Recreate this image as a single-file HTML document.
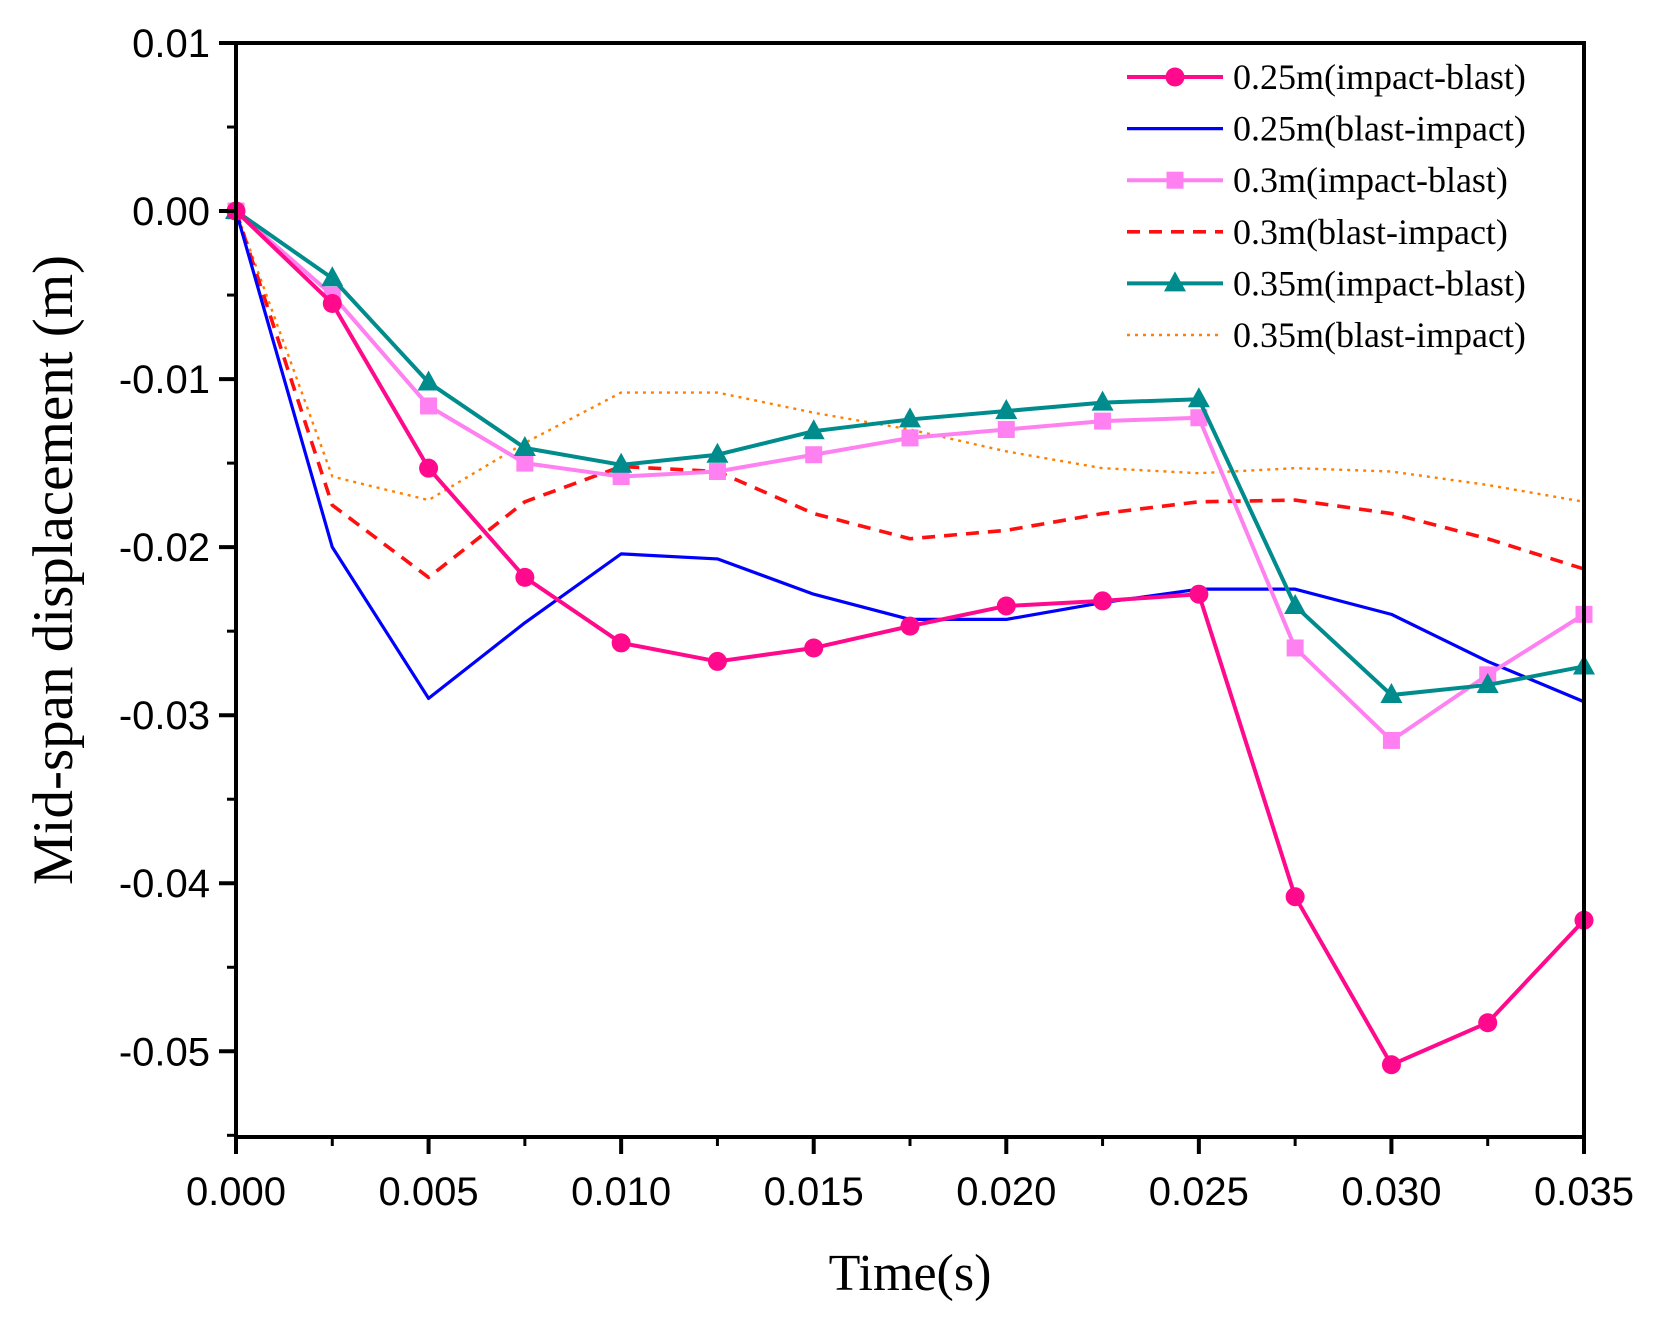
<!DOCTYPE html>
<html><head><meta charset="utf-8"><style>
html,body{margin:0;padding:0;background:#fff;}
svg{display:block;}
</style></head><body>
<svg id="chart" width="1659" height="1325" viewBox="0 0 1659 1325" xmlns="http://www.w3.org/2000/svg">
<g id="plot"></g>
</svg>
<script>
const times=[0,0.0025,0.005,0.0075,0.01,0.0125,0.015,0.0175,0.02,0.0225,0.025,0.0275,0.03,0.0325,0.035];
const s025ib=[0,-0.0055,-0.0153,-0.0218,-0.0257,-0.0268,-0.026,-0.0247,-0.0235,-0.0232,-0.0228,-0.0408,-0.0508,-0.0483,-0.0422];
const s025bi=[0,-0.020,-0.029,-0.0245,-0.0204,-0.0207,-0.0228,-0.0243,-0.0243,-0.0233,-0.0225,-0.0225,-0.024,-0.0268,-0.0292];
const s03ib=[0,-0.005,-0.0116,-0.015,-0.0158,-0.0155,-0.0145,-0.0135,-0.013,-0.0125,-0.0123,-0.026,-0.0315,-0.0276,-0.024];
const s03bi=[0,-0.0175,-0.0218,-0.0173,-0.0152,-0.0155,-0.018,-0.0195,-0.019,-0.018,-0.0173,-0.0172,-0.018,-0.0195,-0.0213];
const s035ib=[0,-0.004,-0.0102,-0.0141,-0.0151,-0.0145,-0.0131,-0.0124,-0.0119,-0.0114,-0.0112,-0.0235,-0.0288,-0.0282,-0.0271];
const s035bi=[0,-0.0158,-0.0172,-0.0138,-0.0108,-0.0108,-0.012,-0.013,-0.0143,-0.0153,-0.0156,-0.0153,-0.0155,-0.0163,-0.0173];
const xTicks=[0,0.005,0.010,0.015,0.020,0.025,0.030,0.035];
const xTickLabels=["0.000","0.005","0.010","0.015","0.020","0.025","0.030","0.035"];
const yTicks=[0.01,0,-0.01,-0.02,-0.03,-0.04,-0.05];
const yTickLabels=["0.01","0.00","-0.01","-0.02","-0.03","-0.04","-0.05"];
const legendLabels=["0.25m(impact-blast)","0.25m(blast-impact)","0.3m(impact-blast)","0.3m(blast-impact)","0.35m(impact-blast)","0.35m(blast-impact)"];

const L=236,R=1584,T=43,B=1137;
const xmin=0,xmax=0.035,ymin=-0.0551,ymax=0.01;
const X=v=>L+(v-xmin)/(xmax-xmin)*(R-L);
const Y=v=>T+(ymax-v)/(ymax-ymin)*(B-T);
const NS="http://www.w3.org/2000/svg";
const g=document.getElementById('plot');
function mk(tag,attrs,parent){const e=document.createElementNS(NS,tag);for(const k in attrs)e.setAttribute(k,attrs[k]);(parent||g).appendChild(e);return e;}

const series=[
 {d:s025ib,c:"#ff0a8c",w:4,dash:null,m:"circle",name:"series-025-impact-blast"},
 {d:s025bi,c:"#0000ff",w:3.2,dash:null,m:null,name:"series-025-blast-impact"},
 {d:s03ib,c:"#ff80f0",w:4,dash:null,m:"square",name:"series-03-impact-blast"},
 {d:s03bi,c:"#ff1010",w:3.6,dash:"13,9",m:null,name:"series-03-blast-impact"},
 {d:s035ib,c:"#008c8c",w:4,dash:null,m:"triangle",name:"series-035-impact-blast"},
 {d:s035bi,c:"#ff8000",w:2.4,dash:"3,5",m:null,name:"series-035-blast-impact"}
];
function marker(type,x,y,c,parent){
 let e;
 if(type==="circle")e=mk('circle',{cx:x,cy:y,r:9.5,fill:c},parent);
 else if(type==="square")e=mk('rect',{x:x-8.5,y:y-8.5,width:17,height:17,fill:c},parent);
 else if(type==="triangle")e=mk('polygon',{points:`${x},${y-12} ${x-11},${y+8} ${x+11},${y+8}`,fill:c},parent);
 return e;
}
const order=[5,3,1,2,4,0];
order.forEach(i=>{
 const s=series[i];
 const grp=mk('g',{});
 
 
 const pts=s.d.map((v,j)=>X(times[j])+','+Y(v)).join(' ');
 const pl=mk('polyline',{points:pts,fill:'none',stroke:s.c,'stroke-width':s.w,'stroke-linejoin':'round'},grp);
 if(s.dash)pl.setAttribute('stroke-dasharray',s.dash);
 
 
 if(s.m){s.d.forEach((v,j)=>{const e=marker(s.m,X(times[j]),Y(v),s.c,grp);
  
  });}
});

const frame=mk('rect',{x:L,y:T,width:R-L,height:B-T,fill:'none',stroke:'#000','stroke-width':4});


xTicks.forEach((v,i)=>{
 const t=mk('line',{x1:X(v),x2:X(v),y1:B,y2:B+17,stroke:'#000','stroke-width':4});
 
 
 const lb=mk('text',{x:X(v),y:B+68,'text-anchor':'middle','font-family':'Liberation Sans, sans-serif','font-size':40,fill:'#000'});
 lb.textContent=xTickLabels[i];
 
 
 if(i<xTicks.length-1){const m=mk('line',{x1:X(v+0.0025),x2:X(v+0.0025),y1:B,y2:B+9,stroke:'#000','stroke-width':3});
  
  }
});
yTicks.forEach((v,i)=>{
 const t=mk('line',{x1:L-17,x2:L,y1:Y(v),y2:Y(v),stroke:'#000','stroke-width':4});
 
 
 const lb=mk('text',{x:L-26,y:Y(v)+14,'text-anchor':'end','font-family':'Liberation Sans, sans-serif','font-size':40,fill:'#000'});
 lb.textContent=yTickLabels[i];
 
 
 const m=mk('line',{x1:L-9,x2:L,y1:Y(v-0.005),y2:Y(v-0.005),stroke:'#000','stroke-width':3});
 
 
});
const xt=mk('text',{x:(L+R)/2,y:1290,'text-anchor':'middle','font-family':'Liberation Serif, serif','font-size':52,fill:'#000'});
xt.textContent="Time(s)";


const yt=mk('text',{x:0,y:0,'text-anchor':'middle','font-family':'Liberation Serif, serif','font-size':57,fill:'#000',transform:`translate(72,${(T+B)/2-20}) rotate(-90)`});
yt.textContent="Mid-span displacement (m)";


const lg=mk('g',{});


legendLabels.forEach((txt,i)=>{
 const s=series[i];const y=77+i*51.6;
 const e=mk('g',{},lg);
 
 
 const ln=mk('line',{x1:1127,x2:1223,y1:y,y2:y,stroke:s.c,'stroke-width':s.w},e);
 if(s.dash)ln.setAttribute('stroke-dasharray',s.dash);
 if(s.m)marker(s.m,1175,y,s.c,e);
 const t=mk('text',{x:1233,y:y+12,'font-family':'Liberation Serif, serif','font-size':36,fill:'#000'},e);
 t.textContent=txt;
});
</script>
</body></html>
